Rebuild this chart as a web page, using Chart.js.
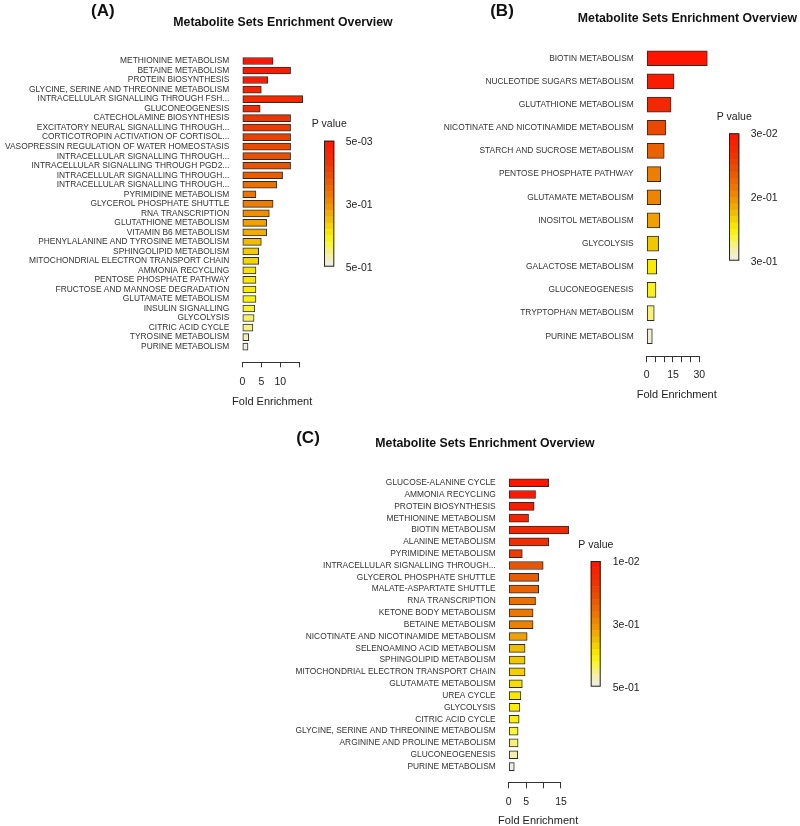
<!DOCTYPE html>
<html><head><meta charset="utf-8">
<script src="https://cdn.jsdelivr.net/npm/chart.js@4.4.1/dist/chart.umd.min.js"></script>
<style>
html,body{margin:0;padding:0;background:#fff;width:800px;height:826px;overflow:hidden;}
canvas{position:absolute;}
</style></head><body>
<canvas id="cA" width="400" height="410" style="left:0;top:0"></canvas>
<canvas id="cB" width="400" height="410" style="left:400px;top:0"></canvas>
<canvas id="cC" width="800" height="416" style="left:0;top:410px"></canvas>
<script>
// ---------- DATA ----------
const catsA = ["METHIONINE METABOLISM","BETAINE METABOLISM","PROTEIN BIOSYNTHESIS","GLYCINE, SERINE AND THREONINE METABOLISM","INTRACELLULAR SIGNALLING THROUGH FSH...","GLUCONEOGENESIS","CATECHOLAMINE BIOSYNTHESIS","EXCITATORY NEURAL SIGNALLING THROUGH...","CORTICOTROPIN ACTIVATION OF CORTISOL...","VASOPRESSIN REGULATION OF WATER HOMEOSTASIS","INTRACELLULAR SIGNALLING THROUGH...","INTRACELLULAR SIGNALLING THROUGH PGD2...","INTRACELLULAR SIGNALLING THROUGH...","INTRACELLULAR SIGNALLING THROUGH...","PYRIMIDINE METABOLISM","GLYCEROL PHOSPHATE SHUTTLE","RNA TRANSCRIPTION","GLUTATHIONE METABOLISM","VITAMIN B6 METABOLISM","PHENYLALANINE AND TYROSINE METABOLISM","SPHINGOLIPID METABOLISM","MITOCHONDRIAL ELECTRON TRANSPORT CHAIN","AMMONIA RECYCLING","PENTOSE PHOSPHATE PATHWAY","FRUCTOSE AND MANNOSE DEGRADATION","GLUTAMATE METABOLISM","INSULIN SIGNALLING","GLYCOLYSIS","CITRIC ACID CYCLE","TYROSINE METABOLISM","PURINE METABOLISM"];
const foldA = [8.1,12.7,6.7,5.0,15.9,4.7,12.7,12.7,12.7,12.7,12.7,12.7,10.6,9.1,3.6,8.1,7.1,6.4,6.4,5.0,4.3,4.3,3.6,3.6,3.6,3.6,3.3,3.1,2.8,1.7,1.5];
const pA = [0.017,0.029,0.035,0.064,0.076,0.088,0.111,0.123,0.135,0.158,0.170,0.182,0.200,0.241,0.253,0.271,0.300,0.320,0.332,0.348,0.364,0.372,0.388,0.392,0.396,0.404,0.420,0.440,0.452,0.476,0.492];
const pBarValuesA = [0.005,0.3,0.5];
const pBarLabelsA = ["5e-03","3e-01","5e-01"];
const xTicksA = [0,5,10,15];
const xTickLabelsA = ["0","5","10",""];

const catsB = ["BIOTIN METABOLISM","NUCLEOTIDE SUGARS METABOLISM","GLUTATHIONE METABOLISM","NICOTINATE AND NICOTINAMIDE METABOLISM","STARCH AND SUCROSE METABOLISM","PENTOSE PHOSPHATE PATHWAY","GLUTAMATE METABOLISM","INOSITOL METABOLISM","GLYCOLYSIS","GALACTOSE METABOLISM","GLUCONEOGENESIS","TRYPTOPHAN METABOLISM","PURINE METABOLISM"];
const foldB = [34.6,15.6,13.9,10.8,10.0,8.0,8.0,7.4,6.8,5.7,5.3,4.3,3.2];
const pB = [0.030,0.047,0.071,0.115,0.149,0.183,0.190,0.210,0.230,0.248,0.256,0.274,0.292];
const pBarValuesB = [0.03,0.2,0.3];
const pBarLabelsB = ["3e-02","2e-01","3e-01"];
const xTicksB = [0,5,10,15,20,25,30];
const xTickLabelsB = ["0","","","15","","","30"];

const catsC = ["GLUCOSE-ALANINE CYCLE","AMMONIA RECYCLING","PROTEIN BIOSYNTHESIS","METHIONINE METABOLISM","BIOTIN METABOLISM","ALANINE METABOLISM","PYRIMIDINE METABOLISM","INTRACELLULAR SIGNALLING THROUGH...","GLYCEROL PHOSPHATE SHUTTLE","MALATE-ASPARTATE SHUTTLE","RNA TRANSCRIPTION","KETONE BODY METABOLISM","BETAINE METABOLISM","NICOTINATE AND NICOTINAMIDE METABOLISM","SELENOAMINO ACID METABOLISM","SPHINGOLIPID METABOLISM","MITOCHONDRIAL ELECTRON TRANSPORT CHAIN","GLUTAMATE METABOLISM","UREA CYCLE","GLYCOLYSIS","CITRIC ACID CYCLE","GLYCINE, SERINE AND THREONINE METABOLISM","ARGININE AND PROLINE METABOLISM","GLUCONEOGENESIS","PURINE METABOLISM"];
const foldC = [11.5,7.7,7.3,5.7,17.2,11.5,3.9,9.9,8.6,8.6,7.7,7.0,7.0,5.3,4.7,4.7,4.7,3.9,3.5,3.2,3.0,2.7,2.7,2.6,1.6];
const pC = [0.016,0.027,0.039,0.068,0.080,0.097,0.126,0.184,0.201,0.213,0.242,0.259,0.277,0.320,0.348,0.360,0.368,0.384,0.396,0.400,0.408,0.428,0.448,0.468,0.492];
const pBarValuesC = [0.01,0.3,0.5];
const pBarLabelsC = ["1e-02","3e-01","5e-01"];
const xTicksC = [0,5,10,15];
const xTickLabelsC = ["0","5","","15"];

// ---------- COLOUR RAMP ----------
const rampStops = [
 [0.00,[255,20,0]],[0.15,[240,45,0]],[0.30,[232,85,0]],[0.45,[238,125,0]],
 [0.55,[240,160,0]],[0.65,[240,200,0]],[0.75,[250,238,0]],[0.82,[248,245,60]],
 [0.90,[245,238,160]],[1.00,[238,238,238]]];
function ramp(t){
  t = Math.max(0, Math.min(1, t));
  for (let i=1;i<rampStops.length;i++){
    const [t1,c1] = rampStops[i], [t0,c0] = rampStops[i-1];
    if (t <= t1){
      const f = (t-t0)/(t1-t0);
      const c = c0.map((v,k)=>Math.round(v+(c1[k]-v)*f));
      return `rgb(${c[0]},${c[1]},${c[2]})`;
    }
  }
  return 'rgb(238,238,238)';
}
function pToT(p, anchors){
  if (p <= anchors[1]) return 0.5*(p-anchors[0])/(anchors[1]-anchors[0]);
  return 0.5 + 0.5*(p-anchors[1])/(anchors[2]-anchors[1]);
}

Chart.defaults.font.family = "'Liberation Sans', Arial, sans-serif";

const decor = {
  id: 'decor',
  afterDraw(chart, args, o){
    const ctx = chart.ctx, xs = chart.scales.x, ca = chart.chartArea;
    ctx.save();
    ctx.strokeStyle = '#333'; ctx.lineWidth = 1;
    const y0 = Math.round(ca.bottom) + 0.5;
    ctx.beginPath();
    ctx.moveTo(xs.getPixelForValue(0), y0);
    ctx.lineTo(xs.getPixelForValue(o.axisEnd), y0);
    ctx.stroke();
    ctx.fillStyle = '#111'; ctx.textAlign = 'center'; ctx.textBaseline = 'middle';
    ctx.font = "bold 12.3px 'Liberation Sans', Arial, sans-serif";
    ctx.fillText('Metabolite Sets Enrichment Overview', o.titleX, o.titleY);
    ctx.font = "bold 17px 'Liberation Sans', Arial, sans-serif";
    ctx.fillText(o.tag, o.tagX, o.tagY);
    // x-axis title (centred on the plot region)
    ctx.fillStyle = '#222';
    ctx.font = "11px 'Liberation Sans', Arial, sans-serif";
    ctx.fillText('Fold Enrichment', (ca.left + ca.right)/2, o.xTitleY);
    // colour bar
    const cb = o.cb, n = 20, h = (cb.y1-cb.y0)/n;
    for (let i=0;i<n;i++){
      ctx.fillStyle = ramp((i+0.5)/n);
      ctx.fillRect(cb.x0, cb.y0+i*h, cb.x1-cb.x0, h+0.6);
    }
    ctx.strokeStyle = '#222'; ctx.lineWidth = 1;
    ctx.strokeRect(cb.x0+0.5, cb.y0+0.5, cb.x1-cb.x0-1, cb.y1-cb.y0-1);
    ctx.fillStyle = '#222'; ctx.textAlign = 'left';
    ctx.font = "10.5px 'Liberation Sans', Arial, sans-serif";
    ctx.fillText('P value', cb.px, cb.py);
    o.labels.forEach((l,i)=>{
      ctx.fillText(l, cb.lx, cb.y0 + (cb.y1-cb.y0)*i/(o.labels.length-1) + 1);
    });
    ctx.restore();
  }
};

function makePanel(id, c){
  new Chart(document.getElementById(id), {
    type: 'bar',
    data: { datasets: [{
      data: c.fold.map((v,i)=>({x:v, y:i})),
      backgroundColor: c.p.map(p=>ramp(pToT(p, c.anchors))),
      borderColor: '#2b2b2b', borderWidth: 1, borderSkipped: false,
      barThickness: c.barThickness, clip: false
    }]},
    options: {
      indexAxis: 'y', responsive: false, animation: false, devicePixelRatio: 1,
      layout: { padding: { left: 0, top: c.top, right: c.right, bottom: 0 } },
      plugins: { legend: {display:false}, tooltip: {enabled:false}, decor: c.decor },
      scales: {
        y: {
          type: 'linear', reverse: true, offset: false, min: -0.5, max: c.yMax,
          afterBuildTicks: s => { s.ticks = c.cats.map((_,i)=>({value:i})); },
          afterFit: s => { s.width = c.axisLeft; },
          ticks: { callback: v => c.cats[v], padding: 13, autoSkip: false, font: {size: 8.4}, color: '#333' },
          grid: { display: false, drawTicks: false, offset: false }, border: { display: false }
        },
        x: {
          type: 'linear', min: 0, max: c.xMax, offset: false,
          afterBuildTicks: s => { s.ticks = c.xTicks.map(v=>({value:v})); },
          afterFit: s => { s.height = c.xH; },
          ticks: { callback: (v,i) => c.xTickLabels[i], padding: c.tickPad, autoSkip: false, maxRotation: 0, font: {size: 10.5}, color: '#222' },
          grid: { display: true, drawOnChartArea: false, drawTicks: true, tickLength: c.tickLen, color: '#333' },
          border: { display: false },
          title: { display: false }
        }
      }
    },
    plugins: [decor]
  });
}

makePanel('cA', {
  cats: catsA, fold: foldA, p: pA, anchors: pBarValuesA,
  top: 56.24, right: 98, axisLeft: 242.3, yMax: 31.65, xMax: 15.7,
  xTicks: xTicksA, xTickLabels: xTickLabelsA, tickLen: 5, tickPad: 8.1, xH: 47.7, barThickness: 7,
  decor: { axisEnd: 15, titleX: 283, titleY: 22.5, tag: '(A)', tagX: 102.8, tagY: 11, xTitleY: 402,
    labels: pBarLabelsA, cb: {x0:324, x1:334.3, y0:140.7, y1:266.7, px:311.7, py:124, lx:345.7} }
});
makePanel('cB', {
  cats: catsB, fold: foldB, p: pB, anchors: pBarValuesB,
  top: 46.7, right: 93.2, axisLeft: 246.7, yMax: 12.84, xMax: 34.3,
  xTicks: xTicksB, xTickLabels: xTickLabelsB, tickLen: 6.5, tickPad: 6.8, xH: 54.3, barThickness: 15,
  decor: { axisEnd: 30, titleX: 287.5, titleY: 19, tag: '(B)', tagX: 102, tagY: 11, xTitleY: 395.3,
    labels: pBarLabelsB, cb: {x0:329, x1:339.3, y0:133.3, y1:260.7, px:316.7, py:117.3, lx:350.7} }
});
makePanel('cC', {
  cats: catsC, fold: foldC, p: pC, anchors: pBarValuesC,
  top: 66.8, right: 232.4, axisLeft: 508.7, yMax: 25.33, xMax: 16.9,
  xTicks: xTicksC, xTickLabels: xTickLabelsC, tickLen: 6, tickPad: 7.7, xH: 43.7, barThickness: 8,
  decor: { axisEnd: 15, titleX: 485, titleY: 34, tag: '(C)', tagX: 308, tagY: 28.5, xTitleY: 410.7,
    labels: pBarLabelsC, cb: {x0:590.7, x1:600.7, y0:151, y1:276.7, px:578.3, py:135, lx:612.7} }
});
</script></body></html>
